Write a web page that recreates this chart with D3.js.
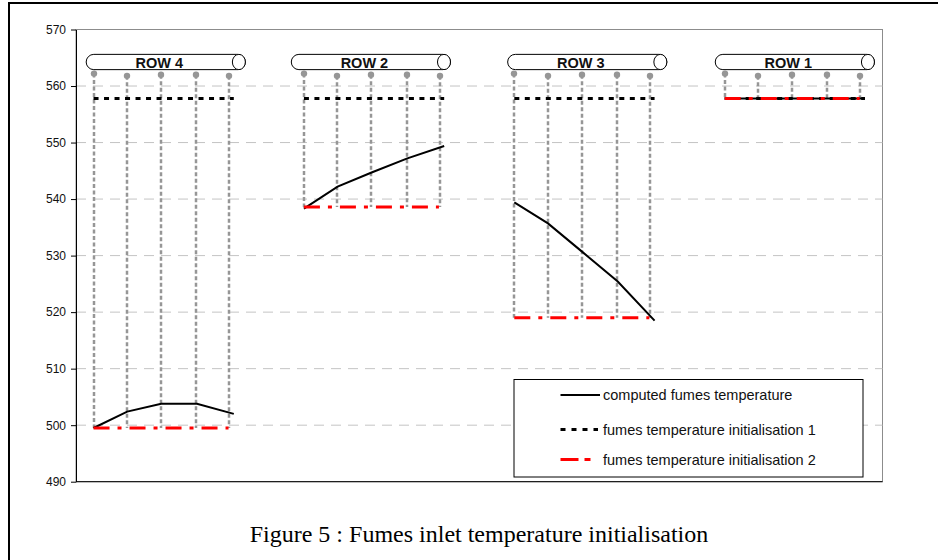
<!DOCTYPE html>
<html>
<head>
<meta charset="utf-8">
<script src="https://cdn.jsdelivr.net/npm/d3@7"></script>
<style>
  body { margin: 0; background: #fff; }
  svg { display: block; }
</style>
</head>
<body>
<div id="chart"></div>
<script>
// data (x in "tube units", y in temperature)
const yTicks = [490, 500, 510, 520, 530, 540, 550, 560, 570];
const rowNames = ["ROW 4", "ROW 2", "ROW 3", "ROW 1"];
const rowStarts = [0.5, 6.5, 12.5, 18.5];
const computedOffsets = [0, 0.96, 1.93, 2.95, 4];
const computedTemps = [
    [499.5, 502.4, 503.8, 503.8, 502.0],
    [538.3, 542.2, 544.7, 547.2, 549.4],
    [539.4, 535.7, 530.7, 525.4, 518.5],
    [557.8, 557.8, 557.8, 557.8, 557.8]
];
const init1Temps = [557.8, 557.8, 557.8, 557.8];
const init1Span = [0, 4];
const init2Temps = [499.5, 538.6, 519.0, 557.8];
const init2Span = [0, 3.85];
const dropOffsets = [0, 0.95, 1.92, 2.93, 3.87];
const dropTops = [562.2, 561.8, 562.0, 562.0, 561.8];
const pipeStarts = [0.29, 6.14, 12.31, 18.23];
const pipeLength = 4.54;
const pipeTop = 565.6, pipeBottom = 562.9;
const legendLabels = ["computed fumes temperature", "fumes temperature initialisation 1", "fumes temperature initialisation 2"];
const caption = "Figure 5 : Fumes inlet temperature initialisation";

// setting
const width = 938, height = 560;
const plot = { left: 76, right: 882.5, top: 29.5, bottom: 481.7 };
const sans = "Arial, 'Liberation Sans', sans-serif";

const svg = d3.select("#chart").append("svg")
    .attr("width", width)
    .attr("height", height);

const x = d3.scaleLinear().domain([0, 23]).range([plot.left, plot.right]);
const y = d3.scaleLinear().domain([490, 570]).range([plot.bottom, plot.top]);

// outer frame (top and left only visible)
svg.append("path")
    .attr("d", `M9,${height} L9,3 L${width},3`)
    .attr("fill", "none")
    .attr("stroke", "#000")
    .attr("stroke-width", 2);

// plot border
svg.append("rect")
    .attr("x", plot.left)
    .attr("y", plot.top)
    .attr("width", plot.right - plot.left)
    .attr("height", plot.bottom - plot.top)
    .attr("fill", "none")
    .attr("stroke", "#8c8c8c")
    .attr("stroke-width", 1);

// grid lines
svg.selectAll(".grid")
    .data(yTicks.slice(1, -1))
    .enter().append("line")
    .attr("class", "grid")
    .attr("x1", plot.left)
    .attr("x2", plot.right)
    .attr("y1", d => y(d))
    .attr("y2", d => y(d))
    .attr("stroke", "#c4c4c4")
    .attr("stroke-width", 1)
    .attr("stroke-dasharray", "10,7");

// y axis
const yAxis = svg.append("g")
    .attr("transform", `translate(${plot.left},0)`)
    .call(d3.axisLeft(y).tickValues(yTicks).tickSize(5).tickSizeOuter(0).tickPadding(5));
yAxis.select(".domain").attr("stroke", "#000");
yAxis.selectAll(".tick line").attr("stroke", "#000");
yAxis.selectAll("text")
    .attr("fill", "#111")
    .style("font-family", sans)
    .style("font-size", "12px");

// x axis line (bottom)
svg.append("line")
    .attr("x1", plot.left).attr("x2", plot.right)
    .attr("y1", plot.bottom).attr("y2", plot.bottom)
    .attr("stroke", "#000");

// drop lines from the pipes
rowStarts.forEach((s, r) => {
    const g = svg.append("g").attr("class", "drops");
    g.selectAll("line")
        .data(dropOffsets)
        .enter().append("line")
        .attr("x1", d => Math.round(x(s + d)))
        .attr("x2", d => Math.round(x(s + d)))
        .attr("y1", (d, i) => y(dropTops[i]))
        .attr("y2", y(init2Temps[r]))
        .attr("stroke", "#969696")
        .attr("stroke-width", 2.5)
        .attr("stroke-dasharray", "4,2.5");
    g.selectAll("circle")
        .data(dropOffsets)
        .enter().append("circle")
        .attr("cx", d => Math.round(x(s + d)))
        .attr("cy", (d, i) => y(dropTops[i]))
        .attr("r", 3.2)
        .attr("fill", "#969696");
});

// pipes
pipeStarts.forEach((p, r) => {
    const x0 = x(p), x1 = x(p + pipeLength);
    const y0 = y(pipeTop), y1 = y(pipeBottom);
    const ry = (y1 - y0) / 2;
    const g = svg.append("g").attr("class", "pipe");
    g.append("rect")
        .attr("x", x0)
        .attr("y", y0)
        .attr("width", x1 - x0)
        .attr("height", y1 - y0)
        .attr("rx", ry)
        .attr("ry", ry)
        .attr("fill", "#fff")
        .attr("stroke", "#000")
        .attr("stroke-width", 1);
    g.append("ellipse")
        .attr("cx", x1 - 6.5)
        .attr("cy", (y0 + y1) / 2)
        .attr("rx", 6.5)
        .attr("ry", ry)
        .attr("fill", "#fff")
        .attr("stroke", "#000")
        .attr("stroke-width", 1);
    g.append("text")
        .attr("x", (x0 + x1 - 13) / 2)
        .attr("y", y1 - 1.5)
        .attr("text-anchor", "middle")
        .style("font-family", sans)
        .style("font-weight", "bold")
        .style("font-size", "14.5px")
        .attr("fill", "#111")
        .text(rowNames[r]);
});

const line = d3.line().x(d => x(d[0])).y(d => y(d[1]));

// computed fumes temperature
rowStarts.forEach((s, r) => {
    const pts = computedOffsets.map((o, i) => [s + o, computedTemps[r][i]]);
    svg.append("path")
        .attr("d", line(pts))
        .attr("fill", "none")
        .attr("stroke", "#000")
        .attr("stroke-width", 2);
});

// initialisation 1
rowStarts.forEach((s, r) => {
    svg.append("path")
        .attr("d", line(init1Span.map(o => [s + o, init1Temps[r]])))
        .attr("stroke", "#000")
        .attr("stroke-width", 3)
        .attr("stroke-dasharray", "5,5.5");
});

// initialisation 2
rowStarts.forEach((s, r) => {
    svg.append("path")
        .attr("d", line(init2Span.map(o => [s + o, init2Temps[r]])))
        .attr("stroke", "#ff0000")
        .attr("stroke-width", 3)
        .attr("stroke-dasharray", "16,8,4,8");
});

// legend
const legend = svg.append("g").attr("transform", "translate(514,379.5)");
legend.append("rect")
    .attr("width", 349)
    .attr("height", 97.5)
    .attr("fill", "#fff")
    .attr("stroke", "#000")
    .attr("stroke-width", 1);
const legendStyles = [
    { stroke: "#000", width: 2, dash: null, end: 86 },
    { stroke: "#000", width: 3, dash: "5,6", end: 84 },
    { stroke: "#ff0000", width: 3, dash: "18,6,6,40", end: 80 }
];
const legendY = [15.5, 50, 80];
legend.selectAll(".legend-line")
    .data(legendLabels)
    .enter().append("line")
    .attr("class", "legend-line")
    .attr("x1", 46.5)
    .attr("x2", (d, i) => legendStyles[i].end)
    .attr("y1", (d, i) => legendY[i])
    .attr("y2", (d, i) => legendY[i])
    .attr("stroke", (d, i) => legendStyles[i].stroke)
    .attr("stroke-width", (d, i) => legendStyles[i].width)
    .attr("stroke-dasharray", (d, i) => legendStyles[i].dash);
legend.selectAll(".legend-text")
    .data(legendLabels)
    .enter().append("text")
    .attr("class", "legend-text")
    .attr("x", 89)
    .attr("y", (d, i) => legendY[i])
    .attr("dy", "0.36em")
    .style("font-family", sans)
    .style("font-size", "14.5px")
    .attr("fill", "#111")
    .text(d => d);

// caption
svg.append("text")
    .attr("x", 479)
    .attr("y", 541.5)
    .attr("text-anchor", "middle")
    .style("font-family", "'Times New Roman', 'Liberation Serif', serif")
    .style("font-size", "24px")
    .attr("fill", "#000")
    .text(caption);
</script>
</body>
</html>
